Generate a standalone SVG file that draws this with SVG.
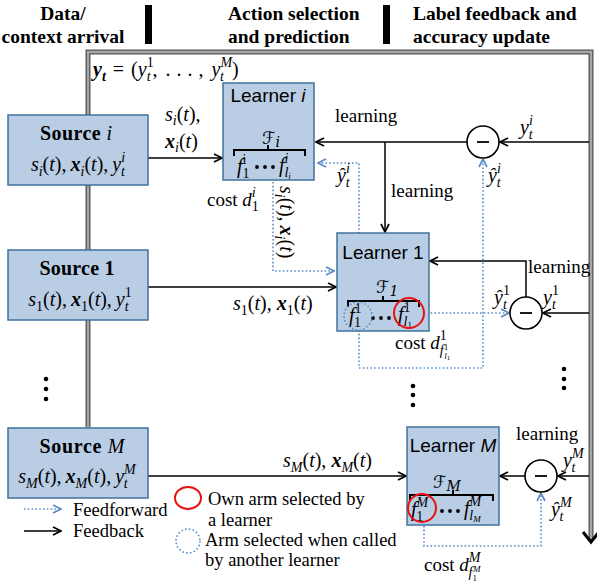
<svg xmlns="http://www.w3.org/2000/svg" width="597" height="586" viewBox="0 0 597 586">
<style>
.hd{font-family:"Liberation Serif","DejaVu Serif",serif;font-size:19.5px;font-weight:bold;fill:#000}
.m{font-family:"Liberation Serif","DejaVu Serif",serif;font-size:20px;fill:#000}
.lb{font-family:"Liberation Serif","DejaVu Serif",serif;font-size:19px;fill:#000}
.lg{font-family:"Liberation Serif","DejaVu Serif",serif;font-size:18.5px;fill:#000}
.src{font-family:"Liberation Serif","DejaVu Serif",serif;font-size:20px;fill:#000}
.i{font-style:italic}
.b{font-style:italic;font-weight:bold}
.s{font-size:14px}
.ln{font-family:"Liberation Sans",Arial,sans-serif;font-size:19px;fill:#000}
.cal{font-family:"DejaVu Serif","DejaVu Sans",serif;font-style:italic;font-size:17px}
.box{fill:#b9cde5;stroke:#41719c;stroke-width:1.5}
.fb{fill:none;stroke:#000;stroke-width:1.5;marker-end:url(#ah)}
.ff{fill:none;stroke:#5b8cc7;stroke-width:1.6;stroke-dasharray:1.6 2.2;marker-end:url(#ahb)}
.frO{fill:none;stroke:#555;stroke-width:5}
.frI{fill:none;stroke:#a6a6a6;stroke-width:2.4}
.minus{fill:#fff;stroke:#000;stroke-width:1.6}
.brace{fill:none;stroke:#000;stroke-width:2}
.red{fill:none;stroke:#e81010;stroke-width:2}
.bc{fill:none;stroke:#5b8cc7;stroke-width:1.6;stroke-dasharray:1.6 2.2}
</style>
<defs>
<marker id="ah" viewBox="0 0 10 10" refX="9" refY="5" markerWidth="10" markerHeight="10" markerUnits="userSpaceOnUse" orient="auto"><path d="M1,1 L9,5 L1,9" fill="none" stroke="#000" stroke-width="1.7"/></marker>
<marker id="ahb" viewBox="0 0 10 10" refX="9" refY="5" markerWidth="10" markerHeight="10" markerUnits="userSpaceOnUse" orient="auto"><path d="M1,1 L9,5 L1,9" fill="none" stroke="#5b8cc7" stroke-width="1.7"/></marker>
</defs>

<g id="header">
<text class="hd" x="63" y="20" text-anchor="middle">Data/</text>
<text class="hd" x="63" y="43" text-anchor="middle">context arrival</text>
<rect x="145" y="5" width="7" height="39" fill="#000"/>
<text class="hd" x="228" y="20">Action selection</text>
<text class="hd" x="228" y="43">and prediction</text>
<rect x="383" y="5" width="7" height="39" fill="#000"/>
<text class="hd" x="413" y="20">Label feedback and</text>
<text class="hd" x="413" y="43">accuracy update</text>
</g>

<g id="frame">
<path class="frO" d="M88,427 V52 H591 V541"/>
<path class="frI" d="M88,427 V52 H591 V541"/>
<path d="M583,532 L591,542 L599,532" fill="none" stroke="#000" stroke-width="3"/>
<text class="m" x="93" y="76"><tspan class="b">y</tspan><tspan class="s b" dy="5">t</tspan><tspan dx="7" dy="-5">=</tspan><tspan dx="7">(</tspan><tspan class="i">y</tspan><tspan class="s" dy="-9">1</tspan><tspan class="s i" dx="-7" dy="14">t</tspan><tspan dx="2" dy="-5">,</tspan><tspan dx="8">.</tspan><tspan dx="6">.</tspan><tspan dx="6">.</tspan><tspan dx="6">,</tspan><tspan class="i" dx="8">y</tspan><tspan class="s i" dy="-9">M</tspan><tspan class="s i" dx="-12" dy="14">t</tspan><tspan dx="8" dy="-5">)</tspan></text>
</g>

<g id="connectors">
<path class="fb" d="M148,158 H222"/>
<path class="fb" d="M148,287 H336"/>
<path class="fb" d="M148,476 H406"/>
<path class="fb" d="M589,142 H500"/>
<path class="fb" d="M467,142 H316"/>
<path class="fb" d="M385,142 V232"/>
<path class="fb" d="M589,313 H543"/>
<path class="fb" d="M526,297 V261 H430"/>
<path class="fb" d="M589,476 H558"/>
<path class="fb" d="M525,476 H500"/>
<path class="ff" d="M273,182 V271 H334"/>
<path class="ff" d="M359,302 V163 H318"/>
<path class="ff" d="M359,330 V368 H483 V159"/>
<path class="ff" d="M423,313 H509"/>
<path class="ff" d="M424,522 V546 H541 V493"/>
</g>

<g id="source-i">
<rect class="box" x="8" y="115" width="140" height="70"/>
<text class="src" x="76" y="140" text-anchor="middle" textLength="72" lengthAdjust="spacing"><tspan font-weight="bold">Source </tspan><tspan class="i">i</tspan></text>
<text class="m" x="78" y="171" text-anchor="middle"><tspan class="i">s</tspan><tspan class="s i" dy="5">i</tspan><tspan dy="-5">(</tspan><tspan class="i">t</tspan>),<tspan class="b" dx="4">x</tspan><tspan class="s i" dy="5">i</tspan><tspan dy="-5">(</tspan><tspan class="i">t</tspan>),<tspan class="i" dx="4">y</tspan><tspan class="s i" dy="-9">i</tspan><tspan class="s i" dx="-4" dy="14">t</tspan></text>
</g>

<g id="source-1">
<rect class="box" x="8" y="250" width="140" height="70"/>
<text class="src" x="77" y="275" text-anchor="middle" font-weight="bold" textLength="75" lengthAdjust="spacing">Source 1</text>
<text class="m" x="80" y="306" text-anchor="middle"><tspan class="i">s</tspan><tspan class="s" dy="5">1</tspan><tspan dy="-5">(</tspan><tspan class="i">t</tspan>),<tspan class="b" dx="4">x</tspan><tspan class="s" dy="5">1</tspan><tspan dy="-5">(</tspan><tspan class="i">t</tspan>),<tspan class="i" dx="4">y</tspan><tspan class="s" dy="-9">1</tspan><tspan class="s i" dx="-7" dy="14">t</tspan></text>
</g>

<g id="source-dots">
<circle cx="46" cy="379" r="2.3"/>
<circle cx="46" cy="389" r="2.3"/>
<circle cx="46" cy="399" r="2.3"/>
</g>

<g id="source-M">
<rect class="box" x="8" y="428" width="140" height="70"/>
<text class="src" x="82" y="453" text-anchor="middle" textLength="85" lengthAdjust="spacing"><tspan font-weight="bold">Source </tspan><tspan class="i">M</tspan></text>
<text class="m" x="77" y="483" text-anchor="middle"><tspan class="i">s</tspan><tspan class="s i" dy="5">M</tspan><tspan dy="-5">(</tspan><tspan class="i">t</tspan>),<tspan class="b" dx="4">x</tspan><tspan class="s i" dy="5">M</tspan><tspan dy="-5">(</tspan><tspan class="i">t</tspan>),<tspan class="i" dx="4">y</tspan><tspan class="s i" dy="-9">M</tspan><tspan class="s i" dx="-12" dy="14">t</tspan></text>
</g>

<g id="learner-i">
<rect class="box" x="223" y="83" width="91" height="97"/>
<text class="ln" x="268" y="102" text-anchor="middle">Learner <tspan font-style="italic">i</tspan></text>
<text class="cal" x="262" y="144">ℱ<tspan class="s" dy="3">i</tspan></text>
<path class="brace" d="M234,156 V150 H305 V156 M268,150 V145"/>
<text class="m" x="237" y="173"><tspan class="i">f</tspan><tspan class="s" dy="-9">i</tspan><tspan class="s" dx="-4" dy="14">1</tspan></text>
<circle cx="257" cy="167" r="1.9"/><circle cx="265" cy="167" r="1.9"/><circle cx="273" cy="167" r="1.9"/>
<text class="m" x="279" y="172"><tspan class="i">f</tspan><tspan class="s i" dy="-9">i</tspan><tspan class="s i" dx="-4" dy="14">l</tspan><tspan font-size="9" class="i" dy="2">i</tspan></text>
</g>

<g id="learner-1">
<rect class="box" x="337" y="233" width="92" height="98"/>
<text class="ln" x="383" y="259" text-anchor="middle">Learner 1</text>
<text class="cal" x="376" y="293">ℱ<tspan class="s" dy="3">1</tspan></text>
<path class="brace" d="M348,307 V301 H419 V307 M383,301 V296"/>
<text class="m" x="349" y="322"><tspan class="i">f</tspan><tspan class="s" dy="-9">1</tspan><tspan class="s" dx="-7" dy="14">1</tspan></text>
<circle cx="373" cy="318" r="1.9"/><circle cx="381" cy="318" r="1.9"/><circle cx="389" cy="318" r="1.9"/>
<text class="m" x="398" y="321"><tspan class="i">f</tspan><tspan class="s" dy="-9">1</tspan><tspan class="s i" dx="-7" dy="14">l</tspan><tspan font-size="9" dy="2">1</tspan></text>
<circle class="bc" cx="358" cy="316" r="14"/>
<circle class="red" cx="409" cy="313" r="15"/>
</g>

<g id="learner-M">
<rect class="box" x="407" y="427" width="92" height="98"/>
<text class="ln" x="453" y="452" text-anchor="middle">Learner <tspan font-style="italic">M</tspan></text>
<text class="cal" x="433" y="488">ℱ<tspan class="s i" dy="3">M</tspan></text>
<path class="brace" d="M410,501 V495 H493 V501 M453,495 V490"/>
<text class="m" x="411" y="516"><tspan class="i">f</tspan><tspan class="s i" dy="-9">M</tspan><tspan class="s" dx="-12" dy="14">1</tspan></text>
<circle cx="442" cy="511" r="1.9"/><circle cx="450" cy="511" r="1.9"/><circle cx="458" cy="511" r="1.9"/>
<text class="m" x="464" y="515"><tspan class="i">f</tspan><tspan class="s i" dy="-9">M</tspan><tspan class="s i" dx="-12" dy="14">l</tspan><tspan font-size="9" class="i" dy="2">M</tspan></text>
<circle class="red" cx="422" cy="508" r="14"/>
</g>

<g id="learner-dots">
<circle cx="413" cy="386" r="2.3"/><circle cx="413" cy="395" r="2.3"/><circle cx="413" cy="405" r="2.3"/>
<circle cx="564" cy="369" r="2.3"/><circle cx="564" cy="379" r="2.3"/><circle cx="564" cy="388" r="2.3"/>
</g>

<g id="minus-i">
<circle class="minus" cx="483" cy="142" r="16"/>
<line x1="477" y1="142" x2="489" y2="142" stroke="#000" stroke-width="1.8"/>
</g>
<g id="minus-1">
<circle class="minus" cx="526" cy="313" r="16"/>
<line x1="520" y1="313" x2="532" y2="313" stroke="#000" stroke-width="1.8"/>
</g>
<g id="minus-M">
<circle class="minus" cx="541" cy="476" r="16"/>
<line x1="535" y1="476" x2="547" y2="476" stroke="#000" stroke-width="1.8"/>
</g>

<g id="labels">
<text class="m" x="165" y="121"><tspan class="i">s</tspan><tspan class="s i" dy="4">i</tspan><tspan dy="-4">(</tspan><tspan class="i">t</tspan>),</text>
<text class="m" x="165" y="148"><tspan class="b">x</tspan><tspan class="s i" dy="4">i</tspan><tspan dy="-4">(</tspan><tspan class="i">t</tspan>)</text>
<text class="lb" x="207" y="206">cost <tspan class="i">d</tspan><tspan class="s i" dy="-9">i</tspan><tspan class="s" dx="-4" dy="14">1</tspan></text>
<text class="m" x="280" y="186" transform="rotate(90 280 186)"><tspan class="i">s</tspan><tspan class="s i" dy="5">i</tspan><tspan dy="-5">(</tspan><tspan class="i">t</tspan>),<tspan class="b" dx="4">x</tspan><tspan class="s i" dy="5">i</tspan><tspan dy="-5">(</tspan><tspan class="i">t</tspan>)</text>
<text class="lb" x="335" y="122">learning</text>
<text class="m" x="520" y="134"><tspan class="i">y</tspan><tspan class="s i" dy="-9">i</tspan><tspan class="s i" dx="-4" dy="14">t</tspan></text>
<text class="m" x="337" y="182"><tspan class="i">ŷ</tspan><tspan class="s i" dy="-9">i</tspan><tspan class="s i" dx="-4" dy="14">t</tspan></text>
<text class="lb" x="391" y="197">learning</text>
<text class="m" x="488" y="182"><tspan class="i">ŷ</tspan><tspan class="s i" dy="-9">i</tspan><tspan class="s i" dx="-4" dy="14">t</tspan></text>
<text class="lb" x="528" y="273">learning</text>
<text class="m" x="233" y="310"><tspan class="i">s</tspan><tspan class="s" dy="5">1</tspan><tspan dy="-5">(</tspan><tspan class="i">t</tspan>),<tspan class="b" dx="5">x</tspan><tspan class="s" dy="5">1</tspan><tspan dy="-5">(</tspan><tspan class="i">t</tspan>)</text>
<text class="m" x="494" y="304"><tspan class="i">ŷ</tspan><tspan class="s" dy="-9">1</tspan><tspan class="s i" dx="-7" dy="14">t</tspan></text>
<text class="m" x="543" y="304"><tspan class="i">y</tspan><tspan class="s" dy="-9">1</tspan><tspan class="s i" dx="-7" dy="14">t</tspan></text>
<text class="lb" x="395" y="349">cost <tspan class="i">d</tspan><tspan class="s" dy="-9">1</tspan><tspan class="s i" dx="-7" dy="15">f</tspan><tspan font-size="9" dy="-5">1</tspan><tspan font-size="9" class="i" dx="-4" dy="9">l</tspan><tspan font-size="7" dy="1">1</tspan></text>
<text class="m" x="283" y="467"><tspan class="i">s</tspan><tspan class="s i" dy="5">M</tspan><tspan dy="-5">(</tspan><tspan class="i">t</tspan>),<tspan class="b" dx="5">x</tspan><tspan class="s i" dy="5">M</tspan><tspan dy="-5">(</tspan><tspan class="i">t</tspan>)</text>
<text class="lb" x="516" y="440">learning</text>
<text class="m" x="563" y="467"><tspan class="i">y</tspan><tspan class="s i" dy="-9">M</tspan><tspan class="s i" dx="-12" dy="14">t</tspan></text>
<text class="m" x="551" y="516"><tspan class="i">ŷ</tspan><tspan class="s i" dy="-9">M</tspan><tspan class="s i" dx="-12" dy="14">t</tspan></text>
<text class="lb" x="424" y="571">cost <tspan class="i">d</tspan><tspan class="s i" dy="-9">M</tspan><tspan class="s i" dx="-12" dy="15">f</tspan><tspan font-size="9" dy="4">1</tspan><tspan font-size="9" class="i" dx="-4" dy="-9">M</tspan></text>
</g>

<g id="legend">
<path class="ff" d="M24,509 H61"/>
<text class="lg" x="73" y="516">Feedforward</text>
<path class="fb" d="M24,531 H61"/>
<text class="lg" x="73" y="537">Feedback</text>
<ellipse class="red" cx="188" cy="498" rx="13" ry="11"/>
<text class="lg" x="208" y="505">Own arm selected by</text>
<text class="lg" x="208" y="526">a learner</text>
<circle class="bc" cx="188" cy="541" r="12"/>
<text class="lg" x="205" y="546">Arm selected when called</text>
<text class="lg" x="205" y="566">by another learner</text>
</g>
</svg>
